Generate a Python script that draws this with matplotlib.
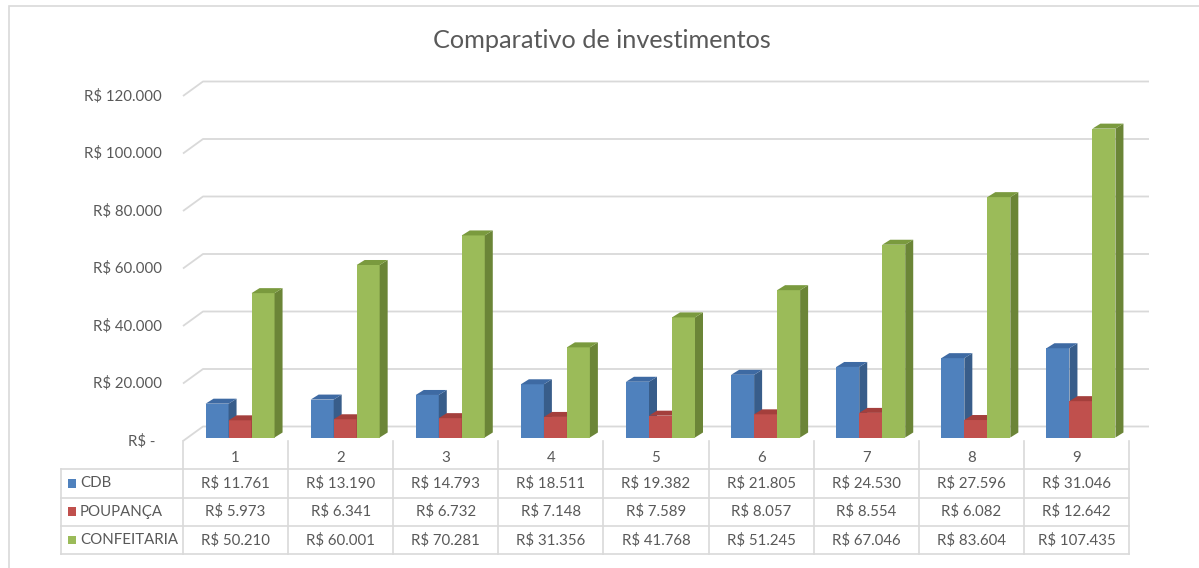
import matplotlib
matplotlib.use("Agg")
import matplotlib.pyplot as plt
from matplotlib.patches import Rectangle, Polygon

# Data
periods = ["1", "2", "3", "4", "5", "6", "7", "8", "9"]
series_names = ["CDB", "POUPANÇA", "CONFEITARIA"]
cdb = [11761, 13190, 14793, 18511, 19382, 21805, 24530, 27596, 31046]
poupanca = [5973, 6341, 6732, 7148, 7589, 8057, 8554, 6082, 12642]
confeitaria = [50210, 60001, 70281, 31356, 41768, 51245, 67046, 83604, 107435]
y_ticks = [0, 20000, 40000, 60000, 80000, 100000, 120000]

series = [cdb, poupanca, confeitaria]
front_colors = ["#4F81BD", "#C0504D", "#9BBB59"]
side_colors = ["#385D8A", "#8C3836", "#6B8537"]
top_colors = ["#3E6AA3", "#A43F3C", "#7A9A3E"]

plt.rcParams["font.family"] = ["Lato", "DejaVu Sans"]
TXT = "#595959"
GRID = "#D9D9D9"
FS = 10.8

W, H = 1199, 568
fig = plt.figure(figsize=(W / 100, H / 100), dpi=100)


def fbox(x0, y_top, x1, y_bot):
    return [x0 / W, 1 - y_bot / H, (x1 - x0) / W, (y_bot - y_top) / H]


# chart border
fig.add_artist(Rectangle((9 / W, -0.05), 1.2, 1 - 6 / H + 0.05, transform=fig.transFigure,
                         fill=False, edgecolor=GRID, lw=1.2))

fig.text(602 / W, 1 - 40 / H, "Comparativo de investimentos", ha="center", va="center",
         fontsize=18.2, color=TXT)

# front plane of the plot
ax = fig.add_axes(fbox(183, 96, 1129, 441))
ax.set_xlim(0, len(periods))
ax.set_ylim(0, 120000)
ax.axis("off")

px_x = 946 / len(periods)   # px per category
px_y = 345 / 120000         # px per value unit

# depth of the back wall
gdx, gdy = 20 / px_x, 14.5 / px_y
for v in y_ticks:
    ax.plot([0, gdx, len(periods) + gdx], [v, v + gdy, v + gdy], color=GRID, lw=1.3,
            clip_on=False, zorder=1, solid_capstyle="butt")
    lab = "R$ -" if v == 0 else "R$ " + f"{v:,}".replace(",", ".")
    xr = -0.0296 if v == 0 else -0.0222
    ax.text(xr, v, lab, transform=ax.get_yaxis_transform(), ha="right", va="center",
            fontsize=FS, color=TXT)

# bars
bw = 23 / px_x
sx, sy = 4.5 / px_x, 3.5 / px_y
ddx, ddy = 8 / px_x, 5 / px_y
for i in range(len(periods)):
    for k, vals in enumerate(series):
        h = vals[i]
        x0 = i + 0.5 + (k - 1.5) * bw + sx
        b = sy
        ax.add_patch(Rectangle((x0, b), bw, h, facecolor=front_colors[k], edgecolor="none",
                               zorder=3, clip_on=False))
        ax.add_patch(Polygon([(x0 + bw, b), (x0 + bw + ddx, b + ddy), (x0 + bw + ddx, b + h + ddy),
                              (x0 + bw, b + h)], closed=True, facecolor=side_colors[k],
                             edgecolor="none", zorder=3, clip_on=False))
        ax.add_patch(Polygon([(x0, b + h), (x0 + ddx, b + h + ddy), (x0 + bw + ddx, b + h + ddy),
                              (x0 + bw, b + h)], closed=True, facecolor=top_colors[k],
                             edgecolor="none", zorder=3, clip_on=False))

# data table
tab = fig.add_axes(fbox(183, 441, 1129, 554))
tab.set_xlim(0, len(periods))
tab.set_ylim(4, 0)
tab.axis("off")
xl = (61 - 183) / px_x
for c in range(len(periods) + 1):
    tab.plot([c, c], [0, 4], color=GRID, lw=1.2, clip_on=False)
tab.plot([xl, xl], [1, 4], color=GRID, lw=1.2, clip_on=False)
for r in range(1, 5):
    tab.plot([xl, len(periods)], [r, r], color=GRID, lw=1.2, clip_on=False)

for i, p in enumerate(periods):
    tab.text(i + 0.5, 0.6, p, ha="center", va="center", fontsize=FS, color=TXT)
for k, (name, vals) in enumerate(zip(series_names, series)):
    yy = k + 1.5
    tab.add_patch(Rectangle(((68 - 183) / px_x, yy - 0.15), 8 / px_x, 0.3,
                            facecolor=front_colors[k], edgecolor="none", clip_on=False))
    tab.text((80 - 183) / px_x, yy, name, ha="left", va="center", fontsize=FS, color=TXT)
    for i, v in enumerate(vals):
        tab.text(i + 0.5, yy, "R$ " + f"{v:,}".replace(",", "."), ha="center", va="center",
                 fontsize=FS, color=TXT)

fig.savefig("out.png", dpi=100, facecolor="white")
